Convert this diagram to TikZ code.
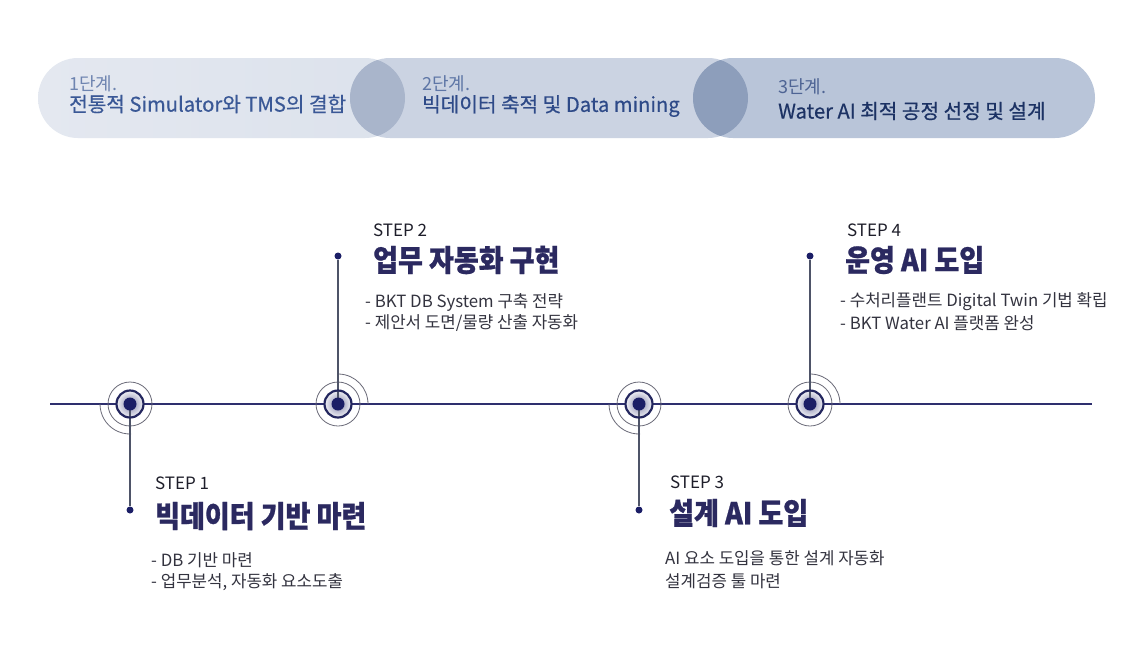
\documentclass[tikz,border=0pt]{standalone}
\usepackage{fontspec}
\setmainfont{Noto Sans CJK KR}
\newfontfamily\headfont[FakeStretch=0.9,BoldFeatures={FakeBold=0.9}]{Noto Sans CJK KR}
\newfontfamily\bodyfont{Noto Sans CJK KR}
\newfontfamily\pillfont[FakeBold=0.5]{Noto Sans CJK KR}
\definecolor{pillA}{HTML}{DCE2EC}
\definecolor{pillAl}{HTML}{E4E8F0}
\definecolor{pillB}{HTML}{CBD3E2}
\definecolor{pillC}{HTML}{B9C5D9}
\definecolor{lensA}{HTML}{A9B5CB}
\definecolor{lensB}{HTML}{8D9EBB}
\definecolor{ptA}{HTML}{3A5896}
\definecolor{ptAl}{HTML}{6E84B0}
\definecolor{ptB}{HTML}{2E4A88}
\definecolor{ptBl}{HTML}{5E76A6}
\definecolor{ptC}{HTML}{1C3264}
\definecolor{ptCl}{HTML}{4E6494}
\definecolor{tline}{HTML}{2E2F6E}
\definecolor{conncol}{HTML}{4E5468}
\definecolor{navy}{HTML}{1B1E66}
\definecolor{ringcol}{HTML}{23265E}
\definecolor{thincol}{HTML}{6A6A78}
\definecolor{headcol}{HTML}{2B2960}
\definecolor{stepcol}{HTML}{1E1E2A}
\definecolor{bodycol}{HTML}{33333F}
\tikzset{
  pilltxt/.style={anchor=west,inner sep=0pt,font=\pillfont\fontsize{20.2}{24}\selectfont},
  pillsub/.style={anchor=west,inner sep=0pt,font=\fontsize{18}{22}\selectfont},
  steplbl/.style={anchor=west,inner sep=0pt,text=stepcol,font=\fontsize{17}{20}\selectfont},
  headlbl/.style={anchor=west,inner sep=0pt,text=headcol,font=\headfont\bfseries\fontsize{30}{34}\selectfont},
  bodylbl/.style={anchor=west,inner sep=0pt,text=bodycol,font=\bodyfont\fontsize{16.8}{20}\selectfont},
  conn/.style={draw=conncol,line width=1.4pt},
  enddot/.style={circle,fill=navy,inner sep=0pt,minimum size=7pt},
  thin/.style={draw=thincol,line width=0.8pt},
}
\begin{document}
\begin{tikzpicture}[x=1pt,y=-1pt]
\useasboundingbox (0,0) rectangle (1134,651);
\fill[white] (0,0) rectangle (1134,651);
% pills
\def\pA{(38,58) rectangle (405,138)}
\def\pB{(350,58) rectangle (748,138)}
\def\pC{(693,58) rectangle (1095,138)}
\shade[left color=pillAl,right color=pillA,rounded corners=40pt] \pA;
\fill[pillB,rounded corners=40pt] \pB;
\fill[pillC,rounded corners=40pt] \pC;
\begin{scope}
  \clip[rounded corners=40pt] \pA;
  \fill[lensA,rounded corners=40pt] \pB;
\end{scope}
\begin{scope}
  \clip[rounded corners=40pt] \pB;
  \fill[lensB,rounded corners=40pt] \pC;
\end{scope}
\node[pillsub,text=ptAl] (p1a) at (69,84) {1단계.};
\node[pilltxt,text=ptA] (p1b) at (69,104) {전통적 Simulator와 TMS의 결합};
\node[pillsub,text=ptBl] (p2a) at (422,84) {2단계.};
\node[pilltxt,text=ptB] (p2b) at (422,106) {빅데이터 축적 및 Data mining};
\node[pillsub,text=ptCl] (p3a) at (778,87) {3단계.};
\node[pilltxt,text=ptC] (p3b) at (778,111) {Water AI 최적 공정 선정 및 설계};
% timeline
\coordinate (tl0) at (50,404);
\coordinate (tl1) at (1092,404);
\draw[tline,line width=1.6pt] (tl0) -- (tl1);
\coordinate (c1) at (130,404);
\coordinate (c2) at (338,404);
\coordinate (c3) at (639,404);
\coordinate (c4) at (810,404);
\node[enddot] (d1) at (130,510) {};
\node[enddot] (d2) at (338,256) {};
\node[enddot] (d3) at (639,510) {};
\node[enddot] (d4) at (810,256) {};
\foreach \c in {c1,c2,c3,c4}{
  \fill[white] (\c) circle (13.5);
  \shade[inner color=navy!55!white,outer color=navy!8!white] (\c) circle (13);
  \draw[thin] (\c) circle (22);
}
\draw[thin] (c1) ++(180:30) arc[start angle=180,end angle=88,radius=30];
\draw[thin] (c3) ++(180:30) arc[start angle=180,end angle=88,radius=30];
\draw[thin] (c2) ++(272:30) arc[start angle=272,end angle=360,radius=30];
\draw[thin] (c4) ++(272:30) arc[start angle=272,end angle=360,radius=30];
\draw[conn] (c1) -- (d1);
\draw[conn] (c2) -- (d2);
\draw[conn] (c3) -- (d3);
\draw[conn] (c4) -- (d4);
\foreach \c in {c1,c2,c3,c4}{
  \draw[ringcol,line width=2.2pt] (\c) circle (13.5);
  \fill[navy] (\c) circle (6.5);
}
% step 1
\node[steplbl] (s1) at (155,483) {STEP 1};
\node[headlbl] (h1) at (155,516) {빅데이터 기반 마련};
\node[bodylbl] (b1a) at (151,560) {- DB 기반 마련};
\node[bodylbl] (b1b) at (151,582) {- 업무분석, 자동화 요소도출};
% step 2
\node[steplbl] (s2) at (373,230) {STEP 2};
\node[headlbl] (h2) at (373,260) {업무 자동화 구현};
\node[bodylbl] (b2a) at (365,302) {- BKT DB System 구축 전략};
\node[bodylbl] (b2b) at (365,323) {- 제안서 도면/물량 산출 자동화};
% step 3
\node[steplbl] (s3) at (670,482) {STEP 3};
\node[headlbl] (h3) at (669,513) {설계 AI 도입};
\node[bodylbl] (b3a) at (665,558) {AI 요소 도입을 통한 설계 자동화};
\node[bodylbl] (b3b) at (665,581) {설계검증 툴 마련};
% step 4
\node[steplbl] (s4) at (847,230) {STEP 4};
\node[headlbl] (h4) at (845,260) {운영 AI 도입};
\node[bodylbl] (b4a) at (840,302) {- 수처리플랜트 Digital Twin 기법 확립};
\node[bodylbl] (b4b) at (840,323) {- BKT Water AI 플랫폼 완성};
\end{tikzpicture}
\end{document}
